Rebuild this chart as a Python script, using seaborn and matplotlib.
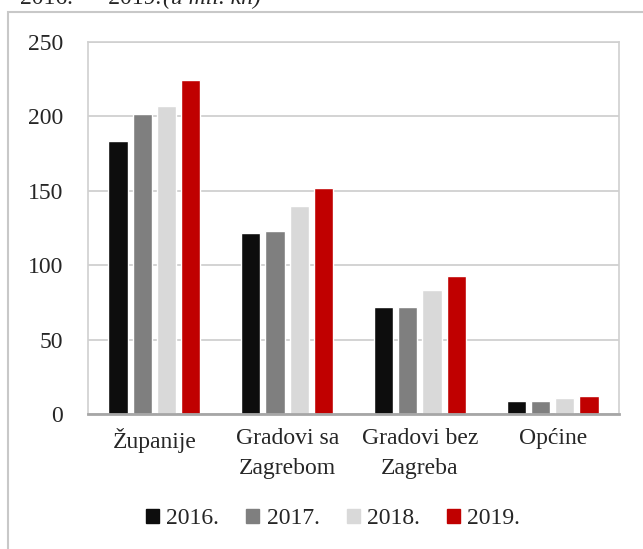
import numpy as np
import pandas as pd
import matplotlib
matplotlib.use('Agg')
import matplotlib.pyplot as plt
import matplotlib.patches as mpatches
import seaborn as sns

categories = ['Županije', 'Gradovi sa\nZagrebom', 'Gradovi bez\nZagreba', 'Općine']
years = ['2016.', '2017.', '2018.', '2019.']
v2016 = [183.5, 121.5, 71.7, 8.5]
v2017 = [201.5, 123.0, 72.0, 8.7]
v2018 = [207.0, 139.8, 83.3, 11.0]
v2019 = [224.5, 151.9, 93.0, 12.3]
colors = ['#0d0d0d', '#7f7f7f', '#d9d9d9', '#c00000']

rows = []
for year, vals in zip(years, [v2016, v2017, v2018, v2019]):
    for cat, v in zip(categories, vals):
        rows.append({'cat': cat, 'year': year, 'val': v})
df = pd.DataFrame(rows)

sns.set_style('white')
plt.rcParams['font.family'] = ['Liberation Serif', 'DejaVu Serif']

fig = plt.figure(figsize=(6.43, 5.49), dpi=100)
ax = fig.add_axes([88/643, 1 - 414/549, 531/643, 372/549])

sns.barplot(data=df, x='cat', y='val', hue='year', palette=colors,
            width=0.73, gap=0.2, ax=ax, legend=False, saturation=1)

ax.set_ylim(0, 250)
ax.set_yticks(range(0, 251, 50))
ax.set_xlim(-0.5, 3.5)
ax.yaxis.grid(True, color='#d0d0d0', linewidth=1.3)
ax.set_axisbelow(True)
ax.set_xlabel('')
ax.set_ylabel('')
for side in ['top', 'right', 'left']:
    ax.spines[side].set_visible(True)
    ax.spines[side].set_color('#d0d0d0')
    ax.spines[side].set_linewidth(1.2)
ax.spines['bottom'].set_color('#a6a6a6')
ax.spines['bottom'].set_linewidth(2)
ax.tick_params(axis='y', length=0, pad=18, labelsize=17)
ax.tick_params(axis='x', length=0, pad=10, labelsize=17)
for lab in ax.get_xticklabels():
    lab.set_linespacing(1.55)

# legend
handles = [mpatches.Patch(color=c, label=y) for c, y in zip(colors, years)]
fig.legend(handles=handles, loc='center', bbox_to_anchor=(333/643, 1 - 519/549),
           ncol=4, frameon=False, fontsize=17, handlelength=0.55, handleheight=0.55,
           handletextpad=0.3, columnspacing=1.15)

# outer chart border
fig.patches.append(mpatches.Rectangle((8/643, -0.1), 1.2, 1 - 12/549 + 0.1,
                                      transform=fig.transFigure, fill=False,
                                      edgecolor='#c8c8c8', linewidth=1.5))

# cut-off caption line at the top
fig.text(20/643, 1 - 4/549, '2016.  –  2019.', fontsize=17, va='baseline', ha='left')
fig.text(163/643, 1 - 4/549, '(u mil. kn)', fontsize=17, style='italic',
         va='baseline', ha='left')

fig.savefig('out.png', dpi=100)
